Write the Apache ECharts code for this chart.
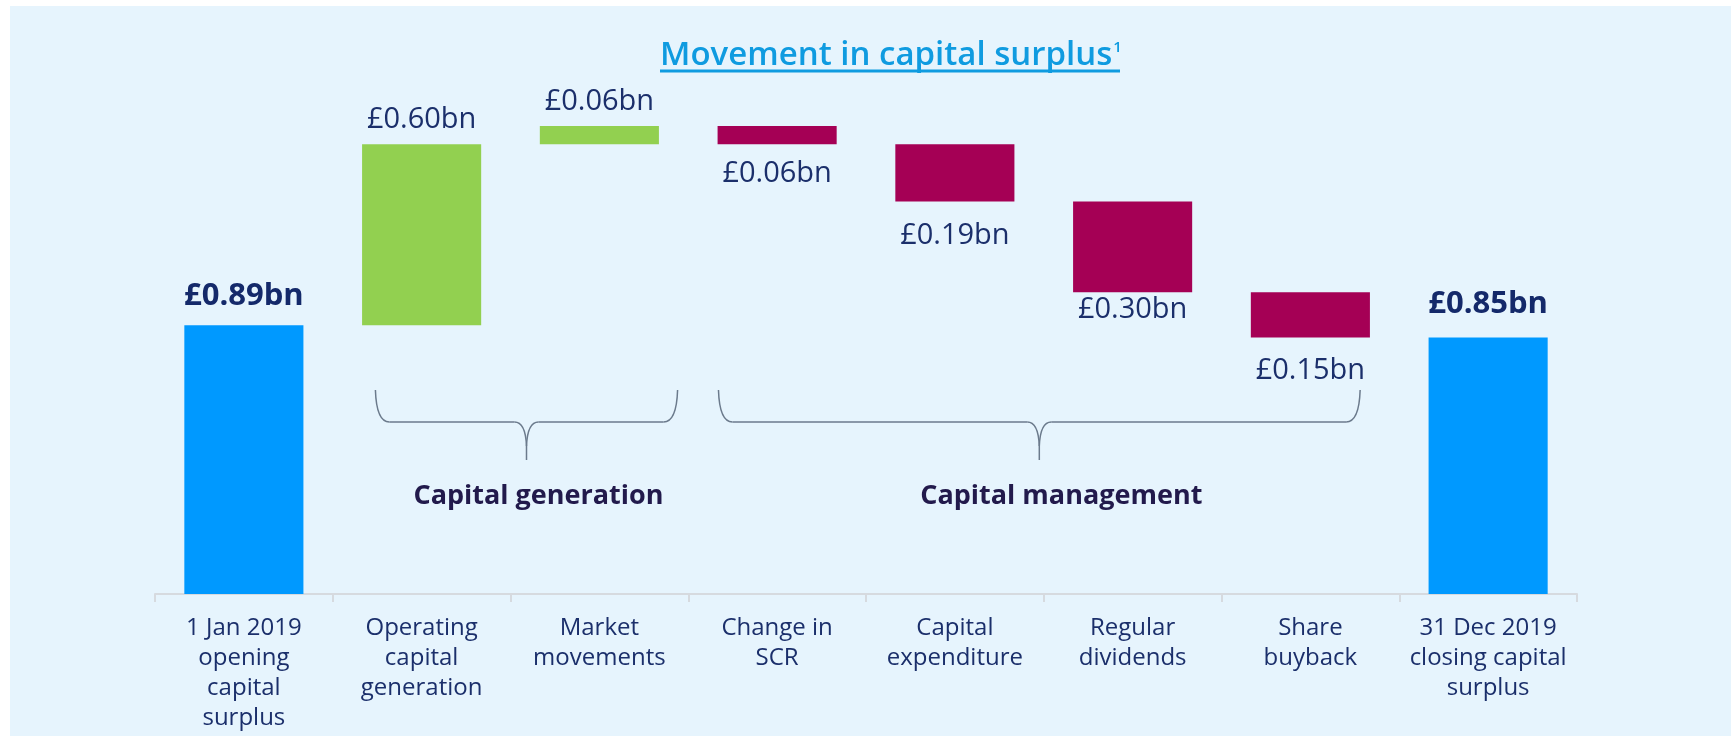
<!DOCTYPE html>
<html>
<head>
<meta charset="utf-8">
<script src="https://cdn.jsdelivr.net/npm/echarts@6/dist/echarts.min.js"></script>
<style>
  html, body { margin: 0; padding: 0; background: #ffffff; }
  #chart { width: 1731px; height: 736px; }
</style>
</head>
<body>
<div id="chart"></div>
<script>
  // 数据
  var categories = [
    "1 Jan 2019\nopening\ncapital\nsurplus",
    "Operating\ncapital\ngeneration",
    "Market\nmovements",
    "Change in\nSCR",
    "Capital\nexpenditure",
    "Regular\ndividends",
    "Share\nbuyback",
    "31 Dec 2019\nclosing capital\nsurplus"
  ];
  var changes = [0.89, 0.60, 0.06, -0.06, -0.19, -0.30, -0.15, 0.85];
  var kinds = ["total", "up", "up", "down", "down", "down", "down", "total"];
  var valueLabels = ["£0.89bn", "£0.60bn", "£0.06bn", "£0.06bn", "£0.19bn", "£0.30bn", "£0.15bn", "£0.85bn"];
  var groupNames = ["Capital generation", "Capital management"];
  var groupFrom = [1, 3];
  var groupTo = [2, 6];

  // 样式（标签间距、括号跨度，以类目宽度为单位）
  var labelGap = [14, 10, 10, 15, 20, 3, 19, 18];
  var braceLeft = [-0.26, -0.33];
  var braceRight = [0.44, 0.28];
  var groupTextShift = [12, 22];
  var COLORS = { total: "#0099ff", up: "#92d050", down: "#a50055" };
  var NAVY = "#1b2f6b";
  var FONT = "Open Sans, sans-serif";

  // 瀑布图底座
  var running = 0;
  var bases = [], heights = [];
  changes.forEach(function (v, i) {
    if (kinds[i] === "total") {
      bases.push(0); heights.push(v); running = v;
    } else if (v >= 0) {
      bases.push(running); heights.push(v); running += v;
    } else {
      running += v; bases.push(running); heights.push(-v);
    }
  });

  var barData = heights.map(function (h, i) {
    var k = kinds[i];
    return {
      value: h,
      itemStyle: { color: COLORS[k] },
      label: {
        show: true,
        formatter: valueLabels[i],
        position: k === "down" ? "bottom" : "top",
        distance: labelGap[i],
        fontSize: k === "total" ? 31 : 29,
        fontWeight: k === "total" ? "bold" : "normal",
        color: k === "total" ? "#14296a" : NAVY,
        fontFamily: FONT
      }
    };
  });

  var chart = echarts.init(document.getElementById("chart"));
  chart.setOption({
    animation: false,
    backgroundColor: "#ffffff",
    grid: { left: 155, right: 154, top: 111, bottom: 142 },
    xAxis: {
      type: "category",
      data: categories,
      axisLine: { lineStyle: { color: "#d6dadf", width: 2 } },
      axisTick: { show: true, length: 8, lineStyle: { color: "#d6dadf", width: 2 } },
      axisLabel: { interval: 0, margin: 19, fontSize: 24, lineHeight: 30, color: NAVY, fontFamily: FONT }
    },
    yAxis: { type: "value", min: 0, max: 1.6, show: false },
    series: [
      {
        type: "bar", stack: "w", data: bases, barCategoryGap: "33%",
        itemStyle: { color: "transparent" }, silent: true
      },
      { type: "bar", stack: "w", data: barData, barCategoryGap: "33%" }
    ]
  });

  // 括号与标题装饰
  function px(i) { return chart.convertToPixel({ xAxisIndex: 0 }, i); }
  var band = px(1) - px(0);
  var y0 = 390, ym = 422, yt = 460, r = 14;
  var BRACE = { stroke: "#6b7a8c", lineWidth: 1.5, fill: null };
  var graphics = [
    { type: "rect", z: -10, shape: { x: 10, y: 6, width: 1721, height: 730 }, style: { fill: "#e6f4fd" } },
    {
      type: "text", x: 660, y: 56,
      style: {
        text: "{t|Movement in capital surplus}{s|1}",
        verticalAlign: "middle",
        rich: {
          t: { fontSize: 33, fontWeight: 600, fill: "#0f9be0", fontFamily: FONT },
          s: { fontSize: 15, fontWeight: 600, fill: "#0f9be0", fontFamily: FONT, padding: [0, 0, 16, 1] }
        }
      }
    },
    { type: "line", shape: { x1: 660, y1: 71, x2: 1120, y2: 71 }, style: { stroke: "#0f9be0", lineWidth: 3 } }
  ];
  groupNames.forEach(function (name, g) {
    var x1 = px(groupFrom[g]) + band * braceLeft[g];
    var x2 = px(groupTo[g]) + band * braceRight[g];
    var xc = (x1 + x2) / 2;
    var parts = [
      { type: "bezierCurve", shape: { x1: x1, y1: y0, cpx1: x1 + 1, cpy1: ym, x2: x1 + r, y2: ym } },
      { type: "line", shape: { x1: x1 + r, y1: ym, x2: xc - 12, y2: ym } },
      { type: "bezierCurve", shape: { x1: xc - 12, y1: ym, cpx1: xc - 1, cpy1: ym, x2: xc, y2: ym + 24 } },
      { type: "line", shape: { x1: xc, y1: ym + 24, x2: xc, y2: yt } },
      { type: "bezierCurve", shape: { x1: xc + 12, y1: ym, cpx1: xc + 1, cpy1: ym, x2: xc, y2: ym + 24 } },
      { type: "line", shape: { x1: xc + 12, y1: ym, x2: x2 - r, y2: ym } },
      { type: "bezierCurve", shape: { x1: x2, y1: y0, cpx1: x2 - 1, cpy1: ym, x2: x2 - r, y2: ym } }
    ];
    parts.forEach(function (p) { p.style = BRACE; graphics.push(p); });
    graphics.push({
      type: "text", x: xc + groupTextShift[g], y: 496,
      style: {
        text: name, fontSize: 27, fontWeight: "bold", fill: "#221a4c", fontFamily: FONT,
        align: "center", verticalAlign: "middle"
      }
    });
  });
  chart.setOption({ graphic: graphics });
</script>
</body>
</html>
